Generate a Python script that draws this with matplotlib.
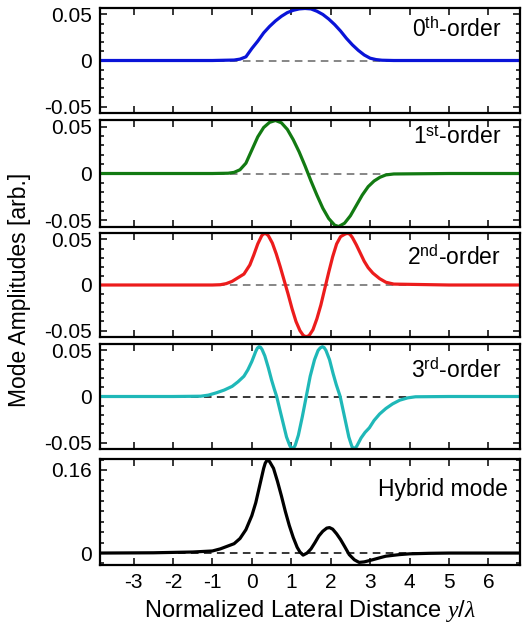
import matplotlib
matplotlib.use('Agg')
import matplotlib.pyplot as plt
from matplotlib.ticker import MultipleLocator

plt.rcParams['font.family'] = ['Liberation Sans', 'DejaVu Sans']
plt.rcParams['mathtext.fontset'] = 'custom'
plt.rcParams['mathtext.rm'] = 'Liberation Sans'
plt.rcParams['mathtext.it'] = 'Liberation Serif:italic'

# mode profiles (y in units of lambda)
x0 = [-3.85, -2.0, -1.0, -0.45, -0.3, -0.15, 0.0, 0.15, 0.3, 0.45, 0.6, 0.75, 0.9, 1.05, 1.2,
      1.35, 1.5, 1.65, 1.8, 1.95, 2.1, 2.25, 2.4, 2.55, 2.7, 2.85, 3.0, 3.15, 3.3, 3.6, 5.0, 6.8]
y0 = [0, 0, 0, 0.0005, 0.0015, 0.004, 0.013, 0.021, 0.030, 0.037, 0.043, 0.048, 0.052, 0.0545, 0.056,
      0.0565, 0.056, 0.0535, 0.050, 0.045, 0.039, 0.032, 0.024, 0.017, 0.011, 0.006, 0.0025, 0.001, 0.0003, 0, 0, 0]

x1 = [-3.85, -2.0, -1.0, -0.6, -0.45, -0.3, -0.15, 0.0, 0.15, 0.3, 0.45, 0.6, 0.75, 0.9, 1.05, 1.2,
      1.35, 1.5, 1.65, 1.8, 1.95, 2.1, 2.2, 2.35, 2.5, 2.65, 2.8, 2.95, 3.1, 3.25, 3.4, 3.6, 5.0, 6.8]
y1 = [0, 0, 0, 0.0003, 0.0012, 0.004, 0.011, 0.025, 0.039, 0.049, 0.0545, 0.0565, 0.054, 0.047, 0.036, 0.023,
      0.008, -0.008, -0.023, -0.037, -0.048, -0.055, -0.0565, -0.053, -0.045, -0.034, -0.023, -0.014, -0.008,
      -0.004, -0.0015, -0.0005, 0, 0]

x2 = [-3.85, -2.0, -1.0, -0.8, -0.65, -0.5, -0.35, -0.2, -0.05, 0.05, 0.15, 0.25, 0.29, 0.33, 0.375, 0.42,
      0.52, 0.62, 0.72, 0.82, 0.92, 1.02, 1.12, 1.22, 1.3, 1.34, 1.38, 1.42, 1.46, 1.55, 1.65, 1.75, 1.85,
      1.95, 2.05, 2.15, 2.25, 2.35, 2.395, 2.44, 2.49, 2.55, 2.65, 2.75, 2.85, 2.95, 3.07, 3.24, 3.4, 3.6,
      5.0, 6.8]
y2 = [0, 0, 0, 0.0003, 0.0015, 0.004, 0.008, 0.012, 0.022, 0.033, 0.045, 0.054, 0.0558, 0.0565, 0.0558,
      0.054, 0.046, 0.034, 0.020, 0.005, -0.010, -0.026, -0.040, -0.050, -0.055, -0.0562, -0.0565, -0.0562,
      -0.055, -0.049, -0.037, -0.022, -0.004, 0.014, 0.031, 0.045, 0.053, 0.0555, 0.0563, 0.0565, 0.0555,
      0.052, 0.044, 0.035, 0.026, 0.019, 0.013, 0.007, 0.003, 0.001, 0, 0]

x3 = [-3.85, -2.0, -1.3, -1.1, -0.9, -0.7, -0.5, -0.35, -0.2, -0.1, 0.0, 0.1, 0.14, 0.18, 0.22, 0.26,
      0.33, 0.42, 0.5, 0.57, 0.63, 0.72, 0.8, 0.88, 0.96, 0.995, 1.03, 1.065, 1.1, 1.18, 1.28, 1.38, 1.48,
      1.59, 1.68, 1.735, 1.79, 1.835, 1.88, 1.97, 2.06, 2.14, 2.24, 2.32, 2.39, 2.46, 2.52, 2.55, 2.58,
      2.62, 2.66, 2.77, 2.87, 2.98, 3.1, 3.24, 3.4, 3.57, 3.75, 3.95, 4.15, 5.0, 6.8]
y3 = [0, 0, 0.0003, 0.0015, 0.004, 0.007, 0.011, 0.016, 0.022, 0.029, 0.038, 0.049, 0.0525, 0.054,
      0.0535, 0.051, 0.044, 0.031, 0.018, 0.008, 0.0, -0.016, -0.030, -0.044, -0.053, -0.0555, -0.0565,
      -0.0555, -0.053, -0.042, -0.022, 0.0, 0.022, 0.040, 0.050, 0.0528, 0.054, 0.053, 0.050, 0.040, 0.025,
      0.013, 0.0, -0.016, -0.030, -0.044, -0.052, -0.0555, -0.0565, -0.0558, -0.054, -0.045, -0.039,
      -0.034, -0.026, -0.019, -0.013, -0.008, -0.004, -0.0015, -0.0003, 0, 0]

xh = [-3.85, -2.5, -1.5, -1.0, -0.8, -0.66, -0.45, -0.3, -0.15, 0.0, 0.1, 0.2, 0.3, 0.34, 0.38, 0.415,
      0.45, 0.55, 0.65, 0.75, 0.85, 0.95, 1.05, 1.15, 1.22, 1.3, 1.4, 1.5, 1.6, 1.7, 1.8, 1.9, 1.97, 2.05,
      2.15, 2.25, 2.35, 2.47, 2.6, 2.72, 2.85, 3.06, 3.25, 3.4, 3.74, 4.0, 4.5, 5.0, 6.8]
yh = [0, 0.0005, 0.002, 0.004, 0.008, 0.012, 0.018, 0.028, 0.045, 0.072, 0.097, 0.130, 0.163, 0.173,
      0.178, 0.1785, 0.176, 0.163, 0.138, 0.110, 0.080, 0.053, 0.030, 0.011, 0.002, -0.004, 0.0, 0.008,
      0.020, 0.033, 0.042, 0.048, 0.049, 0.046, 0.037, 0.026, 0.013, -0.003, -0.013, -0.018, -0.017,
      -0.013, -0.009, -0.006, -0.003, -0.0015, -0.0005, 0, 0]

series = [(x0, y0), (x1, y1), (x2, y2), (x3, y3), (xh, yh)]
colors = ['#0a14d8', '#127a12', '#ec1c1c', '#1fb8b8', 'black']
names = ['0$^{\\mathrm{th}}$-order', '1$^{\\mathrm{st}}$-order', '2$^{\\mathrm{nd}}$-order',
         '3$^{\\mathrm{rd}}$-order', 'Hybrid mode']
xticks = [-3, -2, -1, 0, 1, 2, 3, 4, 5, 6]

# panel extents in pixels (top, bottom) of a 522x627 image
rows = [(8, 113), (120, 227), (233, 337), (344, 449), (459, 565)]
label_y = [0.79, 0.84, 0.76, 0.745, 0.71]

fig = plt.figure(figsize=(5.22, 6.27), dpi=100)
W, H = 522.0, 627.0
for i, ((xs, ys), c) in enumerate(zip(series, colors)):
    top, bot = rows[i]
    ax = fig.add_axes([100 / W, 1 - bot / H, 420 / W, (bot - top) / H])
    dash_c = '0.4' if i < 3 else 'black'
    ax.axhline(0, color=dash_c, lw=1.1, ls=(0, (5, 3.5)), zorder=1)
    ax.plot(xs, ys, color=c, lw=2.3, zorder=2, solid_capstyle='round', solid_joinstyle='round')
    ax.set_xlim(-3.85, 6.8)
    if i < 4:
        ax.set_ylim(-0.057, 0.057)
        ax.set_yticks([-0.05, 0, 0.05])
        ax.set_yticklabels(['-0.05', '0', '0.05'])
        ax.yaxis.set_minor_locator(MultipleLocator(0.01))
    else:
        ax.set_ylim(-0.023, 0.181)
        ax.set_yticks([0, 0.16])
        ax.set_yticklabels(['0', '0.16'])
        ax.yaxis.set_minor_locator(MultipleLocator(0.02))
    ax.set_xticks(xticks)
    if i == 4:
        ax.set_xticklabels([str(t) for t in xticks])
        ax.set_xlabel('Normalized Lateral Distance $y/\\lambda$', fontsize=17, labelpad=4)
    else:
        ax.set_xticklabels([])
    ax.tick_params(which='both', direction='in', top=True, right=True, width=1.1, labelsize=15, pad=6)
    ax.tick_params(which='major', length=5)
    ax.tick_params(which='minor', length=3)
    for s in ax.spines.values():
        s.set_linewidth(1.6)
    ax.text(0.955 if i < 4 else 0.97, label_y[i], names[i], transform=ax.transAxes,
            ha='right', va='center', fontsize=16.5)

fig.text(20 / W, 1 - 290 / H, 'Mode Amplitudes [arb.]', rotation=90,
         ha='center', va='center', fontsize=16.5)

fig.savefig('out.png', dpi=100)
